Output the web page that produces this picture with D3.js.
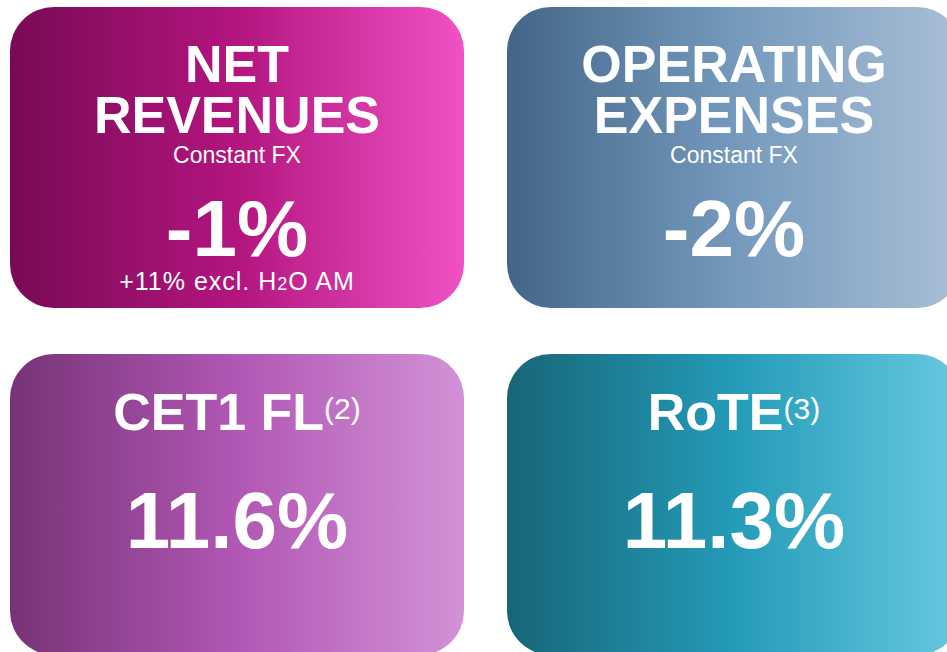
<!DOCTYPE html>
<html>
<head>
<meta charset="utf-8">
<script src="https://cdn.jsdelivr.net/npm/d3@7"></script>
<style>
  body { margin: 0; background: #fff; }
  svg { display: block; }
</style>
</head>
<body>
<div id="chart"></div>
<script>
// KPI tiles, in reading order
const titles = [["NET", "REVENUES"], ["OPERATING", "EXPENSES"], ["CET1 FL"], ["RoTE"]];
const footnotes = ["", "", "(2)", "(3)"];
const subtitles = ["Constant FX", "Constant FX", "", ""];
const values = ["-1%", "-2%", "11.6%", "11.3%"];
const notes = [["+11% excl. H", "2", "O AM"], null, null, null];

// gradient stops per tile (left -> right)
const palette = [
  ["#780a55", "#b3157f", "#f052c4"],
  ["#436688", "#7599bc", "#a9bfd6"],
  ["#773377", "#b157b4", "#d292d6"],
  ["#186577", "#249bb8", "#68c9e0"]
];

const width = 947, height = 652;
const font = "'Liberation Sans', Arial, Helvetica, sans-serif";

const svg = d3.select("#chart").append("svg")
  .attr("width", width)
  .attr("height", height);

const x = d3.scaleBand().domain([0, 1]).range([10, 961]).paddingInner(0.0865);
const y = d3.scaleBand().domain([0, 1]).range([7, 655]).paddingInner(0.1326);

const defs = svg.append("defs");
palette.forEach(function(stops, i) {
  const g = defs.append("linearGradient")
    .attr("id", "grad" + i)
    .attr("x1", "0%").attr("x2", "100%")
    .attr("y1", "0%").attr("y2", "0%");
  g.selectAll("stop")
    .data(stops)
    .enter().append("stop")
    .attr("offset", function(d, j) { return (j / (stops.length - 1) * 100) + "%"; })
    .attr("stop-color", function(d) { return d; });
});

const tiles = svg.selectAll("g.tile")
  .data(values)
  .enter().append("g")
  .attr("class", "tile")
  .attr("transform", function(d, i) {
    return "translate(" + x(i % 2) + "," + y(Math.floor(i / 2)) + ")";
  });

tiles.append("rect")
  .attr("width", x.bandwidth())
  .attr("height", y.bandwidth())
  .attr("rx", 44)
  .attr("ry", 44)
  .attr("fill", function(d, i) { return "url(#grad" + i + ")"; });

const cx = x.bandwidth() / 2;

tiles.each(function(d, i) {
  const g = d3.select(this);
  const lines = titles[i];
  const twoLine = lines.length > 1;

  // title block: one text, a tspan per line
  const t = g.append("text")
    .attr("x", cx)
    .attr("y", twoLine ? 75 : 76)
    .attr("text-anchor", "middle")
    .attr("fill", "#fff")
    .style("font-family", font)
    .style("font-weight", "bold")
    .style("font-size", "52px");
  lines.forEach(function(line, k) {
    t.append("tspan")
      .attr("x", cx)
      .attr("dy", k === 0 ? 0 : 51)
      .text(line);
  });
  if (footnotes[i]) {
    t.append("tspan")
      .attr("dy", -11)
      .style("font-weight", "normal")
      .style("font-size", "30px")
      .text(footnotes[i]);
  }

  if (subtitles[i]) {
    g.append("text")
      .attr("x", cx)
      .attr("y", 156)
      .attr("text-anchor", "middle")
      .attr("fill", "#fff")
      .style("font-family", font)
      .style("font-size", "23px")
      .text(subtitles[i]);
  }

  // big value, with the optional note as a second line
  const v = g.append("text")
    .attr("x", cx)
    .attr("y", twoLine ? 249 : 194)
    .attr("text-anchor", "middle")
    .attr("fill", "#fff")
    .style("font-family", font);
  v.append("tspan")
    .style("font-weight", "bold")
    .style("font-size", "80px")
    .text(values[i]);

  if (notes[i]) {
    v.append("tspan")
      .attr("x", cx)
      .attr("dy", 34)
      .style("font-size", "25px")
      .style("letter-spacing", "1px")
      .text(notes[i][0]);
    v.append("tspan")
      .style("font-size", "18px")
      .style("letter-spacing", "1px")
      .text(notes[i][1]);
    v.append("tspan")
      .style("font-size", "25px")
      .style("letter-spacing", "1px")
      .text(notes[i][2]);
  }
});
</script>
</body>
</html>
